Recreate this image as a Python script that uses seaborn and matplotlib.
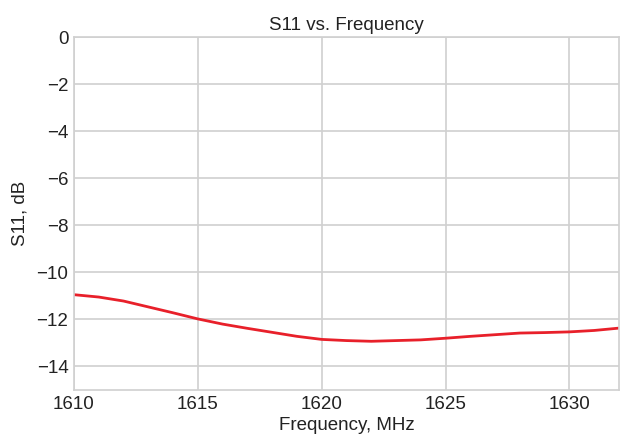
import matplotlib
matplotlib.use("Agg")
import matplotlib.pyplot as plt
import seaborn as sns
import pandas as pd

freq_mhz = [1610, 1611, 1612, 1613, 1614, 1615, 1616, 1617, 1618, 1619, 1620,
            1621, 1622, 1623, 1624, 1625, 1626, 1627, 1628, 1629, 1630, 1631, 1632]
s11_db = [-10.95, -11.05, -11.22, -11.47, -11.72, -11.98, -12.2, -12.38, -12.55, -12.72, -12.85,
          -12.9, -12.93, -12.9, -12.87, -12.8, -12.72, -12.65, -12.58, -12.56, -12.53, -12.47, -12.37]
x_ticks = [1610, 1615, 1620, 1625, 1630]
y_ticks = [0, -2, -4, -6, -8, -10, -12, -14]

sns.set_theme(style="whitegrid")
plt.rcParams['font.family'] = ['Liberation Sans', 'DejaVu Sans']

df = pd.DataFrame({"Frequency": freq_mhz, "S11": s11_db})

fig = plt.figure(figsize=(6.26, 4.36), dpi=100)
ax = fig.add_axes([74/626, 1 - 390/436, (619-74)/626, (390-37)/436])
sns.lineplot(data=df, x="Frequency", y="S11", ax=ax, color="#e8202a", linewidth=2)

ax.set_xlim(1610, 1632)
ax.set_ylim(-15, 0)
ax.set_xticks(x_ticks)
ax.set_yticks(y_ticks)
ax.set_yticklabels([f"\u2212{abs(v)}" if v < 0 else str(v) for v in y_ticks])
ax.grid(True, color="#d0d0d0", linewidth=1.2)
for s in ax.spines.values():
    s.set_color("#d0d0d0")
    s.set_linewidth(1.2)
ax.tick_params(axis="both", labelsize=13.5, colors="#222222", pad=4, length=0)
ax.set_xlabel("Frequency, MHz", fontsize=13.5, color="#222222", labelpad=3)
ax.set_ylabel("S11, dB", fontsize=13.5, color="#222222", labelpad=6)
ax.set_title("S11 vs. Frequency", fontsize=13.5, color="#222222", pad=5)

fig.savefig("out.png", dpi=100)
